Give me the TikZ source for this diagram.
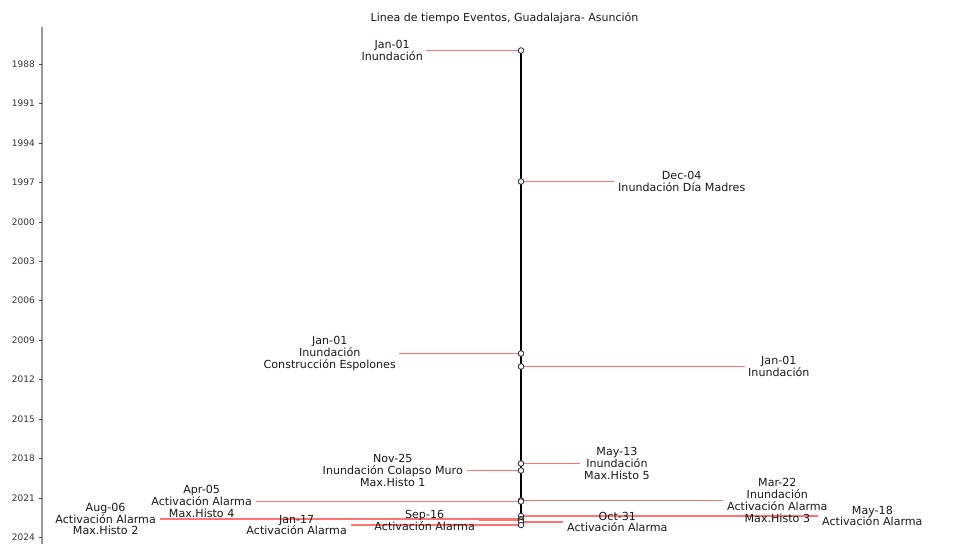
\documentclass[tikz,border=0pt]{standalone}
\usepackage{fontspec}
\setmainfont{DejaVu Sans}
\begin{document}
\begin{tikzpicture}[x=1pt,y=-1pt,
  evline/.style={draw={rgb,255:red,255;green,115;blue,115}, line width=1.5pt},
  evmark/.style={circle, draw=black!85, fill=white, line width=0.8pt, minimum size=5.6pt, inner sep=0pt},
  lbl/.style={align=center, inner sep=0pt, font=\fontsize{11.1}{11.8}\selectfont, text=black!90},
  lblL/.style={lbl, anchor=east},
  lblR/.style={lbl, anchor=west},
  ticklbl/.style={anchor=east, inner sep=0pt, font=\fontsize{9}{10}\selectfont, text=black!80},
  spine/.style={draw=black!40, line width=1.3pt}]
\useasboundingbox (0,0) rectangle (955,544);
% title
\node[font=\fontsize{11}{12}\selectfont, text=black!90] (title) at (504.5,18.5) {Linea de tiempo Eventos, Guadalajara- Asunción};
% axis spine and ticks
\coordinate (sp0) at (42,27);
\coordinate (sp1) at (42,544);
\draw[spine] (sp0) -- (sp1);
\foreach \yr/\yy in {1988/64.0,1991/103.5,1994/142.9,1997/182.4,2000/221.8,2003/261.3,2006/300.7,2009/340.2,2012/379.6,2015/419.1,2018/458.5,2021/498.0,2024/537.4}{
  \coordinate (tk\yr) at (42,\yy);
  \draw[black!70, line width=0.6pt] (tk\yr) -- ++(-3.5,0);
  \node[ticklbl] (tl\yr) at (35,\yy) {\yr};
}
% event markers (positions)
\coordinate (e1) at (521,50.5);
\coordinate (e2) at (521,181.5);
\coordinate (e3) at (521,353.5);
\coordinate (e4) at (521,366.5);
\coordinate (e5) at (521,463.5);
\coordinate (e6) at (521,470.5);
\coordinate (e7) at (521,500.5);
\coordinate (e8) at (521,501.5);
\coordinate (e9) at (521,516);
\coordinate (e10) at (521,519.0);
\coordinate (e11) at (521,520.5);
\coordinate (e12) at (521,522);
\coordinate (e13) at (521,525);
% connector free ends
\coordinate (c1) at (426,50.5);
\coordinate (c2) at (614,181.5);
\coordinate (c3) at (399,353.5);
\coordinate (c4) at (745,366.5);
\coordinate (c5) at (580,463.5);
\coordinate (c6) at (467,470.5);
\coordinate (c7) at (723,500.5);
\coordinate (c8) at (256,501.5);
\coordinate (c9) at (818,516);
\coordinate (c10) at (160,519.0);
\coordinate (c11) at (479,520.5);
\coordinate (c12) at (563,522);
\coordinate (c13) at (351,525);
% connectors
\foreach \i in {1,...,13}{ \draw[evline] (c\i) -- (e\i); }
% main timeline
\draw[black, line width=1.4pt] (e1) -- (e13);
% markers
\foreach \i in {1,...,13}{ \node[evmark] (m\i) at (e\i) {}; }
% labels
\node[lblL] (l1) at ([xshift=-3pt]c1) {Jan-01\\Inundación};
\node[lblR] (l2) at ([xshift=4pt]c2) {Dec-04\\Inundación Día Madres};
\node[lblL] (l3) at ([xshift=-3pt]c3) {Jan-01\\Inundación\\Construcción Espolones};
\node[lblR] (l4) at ([xshift=3pt]c4) {Jan-01\\Inundación};
\node[lblR] (l5) at ([xshift=4pt]c5) {May-13\\Inundación\\Max.Histo 5};
\node[lblL] (l6) at ([xshift=-4pt]c6) {Nov-25\\Inundación Colapso Muro\\Max.Histo 1};
\node[lblR] (l7) at ([xshift=4pt]c7) {Mar-22\\Inundación\\Activación Alarma\\Max.Histo 3};
\node[lblL] (l8) at ([xshift=-4pt]c8) {Apr-05\\Activación Alarma\\Max.Histo 4};
\node[lblR] (l9) at ([xshift=4pt]c9) {May-18\\Activación Alarma};
\node[lblL] (l10) at ([xshift=-4pt]c10) {Aug-06\\Activación Alarma\\Max.Histo 2};
\node[lblL] (l11) at ([xshift=-4pt]c11) {Sep-16\\Activación Alarma};
\node[lblR] (l12) at ([xshift=4pt]c12) {Oct-31\\Activación Alarma};
\node[lblL] (l13) at ([xshift=-4pt]c13) {Jan-17\\Activación Alarma};
\end{tikzpicture}
\end{document}
